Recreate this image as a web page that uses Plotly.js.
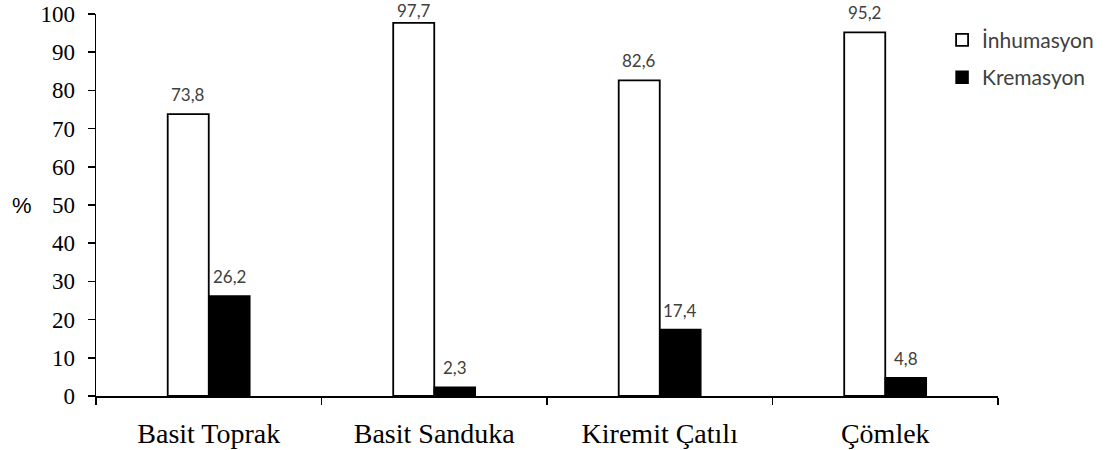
<!DOCTYPE html>
<html><head><meta charset="utf-8">
<script src="https://cdn.plot.ly/plotly-3.0.1.min.js"></script>
<style>html,body{margin:0;padding:0;background:#fff}</style>
</head><body>
<div id="chart" style="width:1109px;height:450px"></div>
<script>
var categories = ["Basit Toprak", "Basit Sanduka", "Kiremit Çatılı", "Çömlek"];
var inhumasyon = [73.8, 97.7, 82.6, 95.2];
var kremasyon = [26.2, 2.3, 17.4, 4.8];
var seriesNames = ["İnhumasyon", "Kremasyon"];
var yTicks = [0,10,20,30,40,50,60,70,80,90,100];
var yTitle = "%";

function fmt(v){ return v.toFixed(1).replace('.', ','); }

var traces = [
  {type:'bar', name:seriesNames[0], x:categories, y:inhumasyon, legendgroup:'a',
   marker:{color:'#ffffff', line:{color:'#000000', width:1.8}}, hoverinfo:'none'},
  {type:'bar', name:seriesNames[1], x:categories, y:kremasyon, legendgroup:'b',
   marker:{color:'#000000', line:{color:'#000000', width:1.5}}, hoverinfo:'none'}
];

var labelFont = {family:'Lato, Liberation Sans, Arial, sans-serif', size:17, color:'#404040'};
var annotations = [];
[inhumasyon, kremasyon].forEach(function(arr, si){
  arr.forEach(function(v, i){
    annotations.push({x:categories[i], y:v, xref:'x', yref:'y', text:fmt(v), showarrow:false,
      xanchor:'center', yanchor:'bottom', xshift: si===0 ? -20.5 : 20.5, yshift: v > 96 ? 0 : 7,
      font:labelFont});
  });
});
annotations.push({x:-0.082, y:0.5, xref:'paper', yref:'paper', text:yTitle, showarrow:false,
  xanchor:'center', yanchor:'middle',
  font:{family:'Liberation Sans, Arial, sans-serif', size:22, color:'#000'}});

var layout = {
  width:1109, height:450,
  margin:{l:96, r:111, t:14, b:54, autoexpand:false},
  paper_bgcolor:'#ffffff', plot_bgcolor:'#ffffff',
  barmode:'group', bargap:0.636, bargroupgap:0,
  showlegend:true,
  legend:{x:0.938, y:0.985, xanchor:'left', yanchor:'top', traceorder:'grouped', tracegroupgap:7,
    font:{family:'Lato, Liberation Sans, Arial, sans-serif', size:21, color:'#404040'},
    itemwidth:30, bgcolor:'rgba(0,0,0,0)'},
  xaxis:{type:'category', showline:true, linecolor:'#000', linewidth:1.5, ticks:'outside', tickson:'boundaries',
    ticklen:7, tickcolor:'#000', tickwidth:1.5, showgrid:false, zeroline:false, ticklabelstandoff:12,
    tickfont:{family:'Liberation Serif, Times New Roman, serif', size:28, color:'#000'}},
  yaxis:{range:[0,100], tickvals:yTicks, showline:true, linecolor:'#000', linewidth:1.5, ticks:'outside',
    ticklen:7, tickcolor:'#000', tickwidth:1.5, showgrid:false, zeroline:false, ticklabelstandoff:8,
    tickfont:{family:'Liberation Serif, Times New Roman, serif', size:23, color:'#000'}},
  annotations:annotations
};

Plotly.newPlot('chart', traces, layout, {displayModeBar:false, staticPlot:true});
</script>
</body></html>
